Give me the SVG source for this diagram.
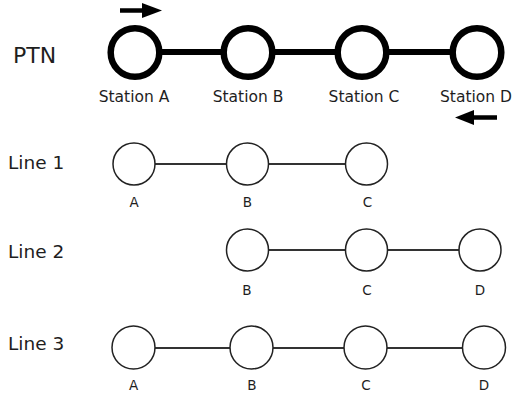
<svg xmlns="http://www.w3.org/2000/svg" width="512" height="401" viewBox="0 0 512 401">
<style>
text{font-family:"DejaVu Sans","Liberation Sans",sans-serif;fill:#1e1e1e}
.big{font-size:22px}
.lbl{font-size:18.5px}
.st{font-size:15.5px;text-anchor:middle}
.ltr{font-size:13.5px;text-anchor:middle}
.ptn{fill:#fff;stroke:#000;stroke-width:6.5}
.node{fill:#fff;stroke:#222;stroke-width:1.5}
.ptnlink{stroke:#000;stroke-width:6}
.link{stroke:#333;stroke-width:2}
</style>
<rect width="512" height="401" fill="#fff"/>
<g id="connectors">
<line class="ptnlink" x1="135" y1="52" x2="477" y2="52"/>
<line class="link" x1="134" y1="164" x2="367" y2="164"/>
<line class="link" x1="248" y1="250" x2="480" y2="250"/>
<line class="link" x1="133.5" y1="348" x2="484" y2="348"/>
<path d="M120 10.5H144" stroke="#000" stroke-width="4.5"/>
<path d="M142 3L162 10.5L142 18Z" fill="#000"/>
<path d="M497 117.5H471" stroke="#000" stroke-width="4.5"/>
<path d="M474 110L455 117.5L474 125Z" fill="#000"/>
</g>
<text class="big" x="13" y="63">PTN</text>
<text class="lbl" x="8" y="169">Line 1</text>
<text class="lbl" x="8" y="258">Line 2</text>
<text class="lbl" x="8" y="350">Line 3</text>
<g id="ptn-a"><circle class="ptn" cx="135" cy="52.5" r="24.3"/><text class="st" x="134" y="101.5">Station A</text></g>
<g id="ptn-b"><circle class="ptn" cx="248" cy="52.5" r="24.3"/><text class="st" x="248" y="101.5">Station B</text></g>
<g id="ptn-c"><circle class="ptn" cx="362" cy="52.5" r="24.3"/><text class="st" x="364" y="101.5">Station C</text></g>
<g id="ptn-d"><circle class="ptn" cx="477" cy="52.5" r="24.3"/><text class="st" x="476" y="101.5">Station D</text></g>
<g id="l1-a"><circle class="node" cx="134" cy="164" r="21"/><text class="ltr" x="134" y="207">A</text></g>
<g id="l1-b"><circle class="node" cx="247.5" cy="164" r="21"/><text class="ltr" x="247.5" y="207">B</text></g>
<g id="l1-c"><circle class="node" cx="366.5" cy="164" r="21"/><text class="ltr" x="367.5" y="207">C</text></g>
<g id="l2-b"><circle class="node" cx="247.5" cy="250" r="21"/><text class="ltr" x="247" y="295">B</text></g>
<g id="l2-c"><circle class="node" cx="366.5" cy="250" r="21"/><text class="ltr" x="367" y="295">C</text></g>
<g id="l2-d"><circle class="node" cx="480" cy="250" r="21"/><text class="ltr" x="480" y="295">D</text></g>
<g id="l3-a"><circle class="node" cx="133.5" cy="347.5" r="21.5"/><text class="ltr" x="133.5" y="390">A</text></g>
<g id="l3-b"><circle class="node" cx="251.5" cy="347.5" r="21.5"/><text class="ltr" x="252" y="390">B</text></g>
<g id="l3-c"><circle class="node" cx="365.5" cy="347.5" r="21.5"/><text class="ltr" x="366" y="390">C</text></g>
<g id="l3-d"><circle class="node" cx="484" cy="347.5" r="21.5"/><text class="ltr" x="484" y="390">D</text></g>
</svg>
